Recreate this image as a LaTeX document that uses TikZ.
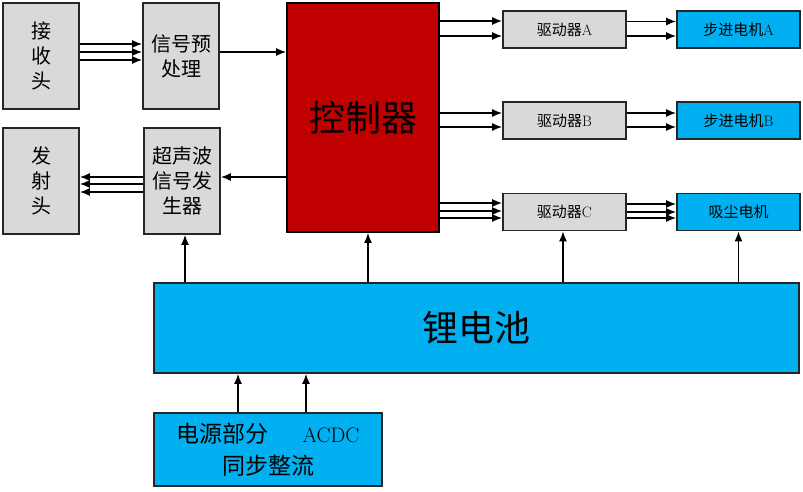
\documentclass[tikz,border=0pt]{standalone}
\usepackage{fontspec}
\newfontfamily\cjk{Noto Sans CJK SC}
\usepackage{tikz}
\usetikzlibrary{arrows.meta,positioning}
\definecolor{boxgray}{HTML}{D9D9D9}
\definecolor{batblue}{HTML}{00B0F0}
\definecolor{ctrlred}{HTML}{C00000}

\begin{document}
\begin{tikzpicture}[
    x=1pt, y=1pt,
    node distance=125pt,
    >={Latex[length=10pt,width=8pt]},
    line width=1.6pt,
    font=\cjk,
    block/.style={
		rectangle,
		draw=black!85,
		line width=1.6pt,
		fill=boxgray,
		align=center,
		inner sep=0pt,
		minimum width=76pt,
		minimum height=106pt,
		font=\cjk\fontsize{20pt}{25pt}\selectfont
	},
	driver/.style={
		rectangle,
		draw=black!85,
		line width=1.6pt,
		fill=boxgray,
		inner sep=0pt,
		minimum width=123pt,
		minimum height=37pt,
		font=\cjk\fontsize{15pt}{18pt}\selectfont
	},
	motor/.style={
		driver,
		fill=batblue
	},
	mcu/.style={
		rectangle,
		draw=black,
		line width=1.6pt,
		fill=ctrlred,
		inner sep=0pt,
		minimum width=152pt,
		minimum height=229pt,
		font=\cjk\fontsize{36pt}{40pt}\selectfont
	},
	supply/.style={
		rectangle,
		draw=black!85,
		line width=1.6pt,
		fill=batblue,
		align=center,
		inner sep=0pt
	}
  ]

 \useasboundingbox (0,0) rectangle (803,-492);

% // sensor side
 \node [block] at (41,-56) (recv) {接\\收\\头};
 \node [block, right of=recv, xshift=15pt] (pre) {信号预\\处理};
 \node [block, below of=recv] (emit) {发\\射\\头};
 \node [block, right of=emit, xshift=16pt] (gen) {超声波\\信号发\\生器};

 \node [mcu, right of=pre, xshift=57pt, yshift=-61.5pt] (ctrl) {控制器};

% // drivers and motors
 \node [driver] at (564.5,-29.5) (drvA) {驱动器{\rmfamily A}};
 \node [driver, below of=drvA, yshift=34pt] (drvB) {驱动器{\rmfamily B}};
 \node [driver, below of=drvB, yshift=33.5pt] (drvC) {驱动器{\rmfamily C}};
 \node [motor, right of=drvA, xshift=49pt] (motA) {步进电机{\rmfamily A}};
 \node [motor, right of=drvB, xshift=49pt] (motB) {步进电机{\rmfamily B}};
 \node [motor, right of=drvC, xshift=49pt] (motC) {吸尘电机};

% // power
 \node [supply, minimum width=645pt, minimum height=90pt,
 font=\cjk\fontsize{36pt}{40pt}\selectfont] at (476.5,-328) (bat) {锂电池};
 \node [supply, below of=bat, xshift=-208.5pt, yshift=3.5pt,
 minimum width=228pt, minimum height=73pt,
 font=\cjk\fontsize{23pt}{32pt}\selectfont] (pwr)
 {电源部分\hspace{34pt}{\rmfamily\fontsize{21pt}{32pt}\selectfont ACDC}\\同步整流};

 \draw [->] ([yshift=12pt]recv.east) -- ([yshift=12pt]pre.west);
 \draw [->] ([yshift=4pt]recv.east) -- ([yshift=4pt]pre.west);
 \draw [->] ([yshift=-4pt]recv.east) -- ([yshift=-4pt]pre.west);
 \draw [->] ([yshift=4pt]pre.east) -- ([yshift=4pt]pre.east -| ctrl.west);

 \draw [->] ([yshift=4pt]gen.east -| ctrl.west) -- ([yshift=4pt]gen.east);
 \draw [->] ([yshift=4pt]gen.west) -- ([yshift=4pt]emit.east);
 \draw [->] ([yshift=-3pt]gen.west) -- ([yshift=-3pt]emit.east);
 \draw [->] ([yshift=-11pt]gen.west) -- ([yshift=-11pt]emit.east);

 \draw [->] ([yshift=8.5pt]drvA.west -| ctrl.east) -- ([yshift=8.5pt]drvA.west);
 \draw [->] ([yshift=-6.5pt]drvA.west -| ctrl.east) -- ([yshift=-6.5pt]drvA.west);
 \draw [->] ([yshift=7.5pt]drvB.west -| ctrl.east) -- ([yshift=7.5pt]drvB.west);
 \draw [->] ([yshift=-6.5pt]drvB.west -| ctrl.east) -- ([yshift=-6.5pt]drvB.west);
 \draw [->] ([yshift=9pt]drvC.west -| ctrl.east) -- ([yshift=9pt]drvC.west);
 \draw [->] ([yshift=1pt]drvC.west -| ctrl.east) -- ([yshift=1pt]drvC.west);
 \draw [->] ([yshift=-6pt]drvC.west -| ctrl.east) -- ([yshift=-6pt]drvC.west);

 \draw [->] ([yshift=8pt]drvA.east) -- ([yshift=8pt]motA.west);
 \draw [->] ([yshift=-6.5pt]drvA.east) -- ([yshift=-6.5pt]motA.west);
 \draw [->] ([yshift=7.5pt]drvB.east) -- ([yshift=7.5pt]motB.west);
 \draw [->] ([yshift=-6.5pt]drvB.east) -- ([yshift=-6.5pt]motB.west);
 \draw [->] ([yshift=8pt]drvC.east) -- ([yshift=8pt]motC.west);
 \draw [->] ([yshift=0pt]drvC.east) -- ([yshift=0pt]motC.west);
 \draw [->] ([yshift=-6pt]drvC.east) -- ([yshift=-6pt]motC.west);

% // battery feeds
 \draw [->] ([xshift=3pt]gen.south |- bat.north) -- ([xshift=3pt]gen.south);
 \draw [->] ([xshift=5pt]ctrl.south |- bat.north) -- ([xshift=5pt]ctrl.south);
 \draw [->] ([xshift=-1.5pt]drvC.south |- bat.north) -- ([xshift=-1.5pt]drvC.south);
 \draw [->] (motC.south |- bat.north) -- (motC.south);
 \draw [->] ([xshift=-30pt]pwr.north) -- ([xshift=-30pt]pwr.north |- bat.south);
 \draw [->] ([xshift=38pt]pwr.north) -- ([xshift=38pt]pwr.north |- bat.south);

\end{tikzpicture}
\end{document}
